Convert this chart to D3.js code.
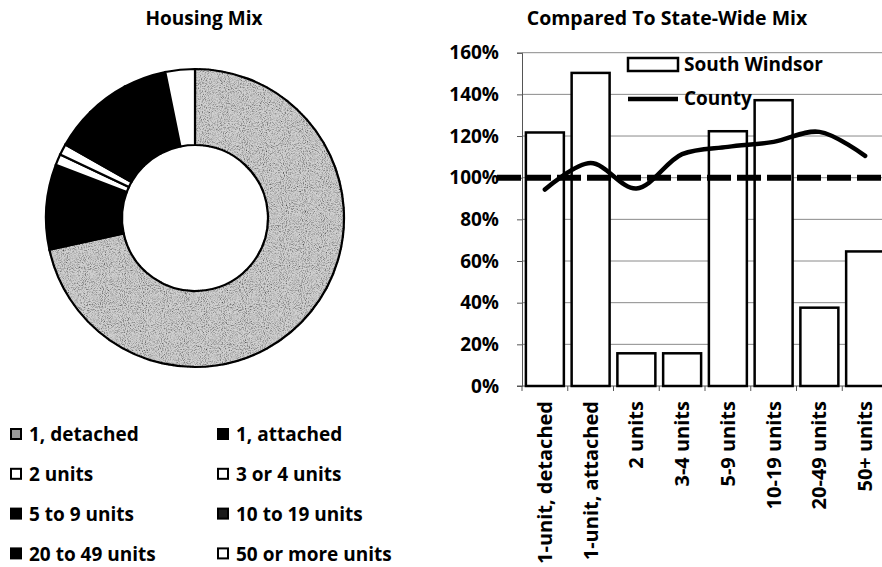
<!DOCTYPE html>
<html>
<head>
<meta charset="utf-8">
<script src="https://cdn.jsdelivr.net/npm/d3@7"></script>
<style>
  body { margin: 0; background: #fff; }
  svg { display: block; font-family: "Open Sans", Lato, sans-serif; font-weight: bold; }
</style>
</head>
<body>
<svg id="chart" width="882" height="567">
  <defs>
    <filter id="speckle" x="-5%" y="-5%" width="110%" height="110%">
      <feTurbulence type="fractalNoise" baseFrequency="0.95" numOctaves="2" seed="4" result="noise"/>
      <feColorMatrix in="noise" type="matrix"
        values="0 0 0 0 0  0 0 0 0 0  0 0 0 0 0  2.0 0 0 0 -0.86" result="dots"/>
      <feComposite in="dots" in2="SourceAlpha" operator="in" result="clipped"/>
      <feMerge><feMergeNode in="SourceGraphic"/><feMergeNode in="clipped"/></feMerge>
    </filter>
  </defs>
</svg>
<script>
"use strict";

// ---- housing mix (donut), percent of units
const mixLabels = ["1, detached", "1, attached", "2 units", "3 or 4 units",
                   "5 to 9 units", "10 to 19 units", "20 to 49 units", "50 or more units"];
const mixValues = [71.6, 9.2, 1.2, 1.2, 4.4, 4.6, 4.6, 3.2];

// ---- compared to state-wide mix (state = 100%)
const compCats = ["1-unit, detached", "1-unit, attached", "2 units", "3-4 units",
                  "5-9 units", "10-19 units", "20-49 units", "50+ units"];
const southWindsor = [1.217, 1.503, 0.157, 0.157, 1.223, 1.372, 0.376, 0.646];
const county = [0.943, 1.07, 0.948, 1.113, 1.148, 1.172, 1.22, 1.105];
const stateLevel = 1.0;
const yTicks = [0, 0.2, 0.4, 0.6, 0.8, 1.0, 1.2, 1.4, 1.6];

const svg = d3.select("#chart");

// fills for the donut slices, same order as mixLabels
const GREY = "#d0d0d0";
const sliceFill = [GREY, "#000", "#fff", "#fff", "#000", "#000", "#000", "#fff"];

// ---------- donut ----------
svg.append("text")
    .attr("x", 204).attr("y", 25)
    .attr("text-anchor", "middle")
    .attr("font-size", 19)
    .text("Housing Mix");

const pie = d3.pie().sort(null).value(d => d);
const arc = d3.arc().innerRadius(73).outerRadius(149);

svg.append("g")
    .attr("transform", "translate(195,218)")
    .selectAll("path")
    .data(pie(mixValues))
    .join("path")
    .attr("d", arc)
    .attr("fill", (d, i) => sliceFill[i])
    .attr("filter", (d, i) => i === 0 ? "url(#speckle)" : null)
    .attr("stroke", "#000")
    .attr("stroke-width", 2.2);

// legend below donut, two columns
const lg = svg.append("g");
const lgItems = lg.selectAll("g")
    .data(mixLabels)
    .join("g")
    .attr("transform", (d, i) => "translate(" + (i % 2 === 0 ? 10 : 217) + "," + (434.5 + Math.floor(i / 2) * 39.8) + ")");

lgItems.append("rect")
    .attr("x", 1).attr("y", -5.5)
    .attr("width", 10).attr("height", 10)
    .attr("fill", (d, i) => i === 0 ? "#9a9a9a" : (i === 5 ? "#1a1a1a" : sliceFill[i]))
    .attr("stroke", "#000")
    .attr("stroke-width", 2);

lgItems.append("text")
    .attr("x", 19).attr("y", 6.8)
    .attr("font-size", 19)
    .text(d => d);

// ---------- comparison chart ----------
const plotTop = 52.7, plotBottom = 386, plotLeft = 522, plotRight = 888;

svg.append("text")
    .attr("x", 667).attr("y", 25)
    .attr("text-anchor", "middle")
    .attr("font-size", 19.5)
    .text("Compared To State-Wide Mix");

const x = d3.scaleBand()
    .domain(compCats)
    .range([plotLeft, plotRight])
    .paddingInner(0.17)
    .paddingOuter(0.085);

const y = d3.scaleLinear().domain([0, 1.6]).range([plotBottom, plotTop]);

// gridlines
svg.append("g")
    .selectAll("line")
    .data(yTicks.slice(1))
    .join("line")
    .attr("x1", plotLeft).attr("x2", 882)
    .attr("y1", d => y(d)).attr("y2", d => y(d))
    .attr("stroke", "#8a8a8a")
    .attr("stroke-width", 1);

// y axis
const yAxis = svg.append("g")
    .attr("transform", "translate(" + plotLeft + ",0)")
    .call(d3.axisLeft(y).tickValues(yTicks).tickFormat(d3.format(".0%")).tickSize(5).tickPadding(18));
yAxis.select(".domain").attr("stroke", "#555");
yAxis.selectAll(".tick line").attr("stroke", "#555");
yAxis.selectAll("text")
    .attr("font-size", 19)
    .attr("font-family", "'Open Sans', sans-serif")
    .attr("font-weight", "bold")
    .attr("fill", "#000");

// x axis line and tick marks between categories
const xg = svg.append("g");
xg.append("line")
    .attr("x1", plotLeft - 5).attr("x2", 882)
    .attr("y1", plotBottom).attr("y2", plotBottom)
    .attr("stroke", "#555");
const step = x.step();
xg.selectAll("line.tk")
    .data(d3.range(compCats.length + 1))
    .join("line")
    .attr("class", "tk")
    .attr("x1", i => plotLeft + i * step).attr("x2", i => plotLeft + i * step)
    .attr("y1", plotBottom).attr("y2", plotBottom + 5)
    .attr("stroke", "#555");

// rotated category labels
xg.selectAll("text")
    .data(compCats)
    .join("text")
    .attr("transform", d => "translate(" + (x(d) + x.bandwidth() / 2 + 7) + "," + (plotBottom + 15) + ") rotate(-90)")
    .attr("text-anchor", "end")
    .attr("font-size", 20)
    .text(d => d);

// bars
svg.append("g")
    .selectAll("rect")
    .data(southWindsor)
    .join("rect")
    .attr("x", (d, i) => x(compCats[i]))
    .attr("y", d => y(d))
    .attr("width", x.bandwidth())
    .attr("height", d => plotBottom - y(d))
    .attr("fill", "#fff")
    .attr("stroke", "#000")
    .attr("stroke-width", 2.5);

// state-wide 100% dashed line
svg.append("line")
    .attr("x1", 497).attr("x2", 882)
    .attr("y1", y(stateLevel)).attr("y2", y(stateLevel))
    .attr("stroke", "#000")
    .attr("stroke-width", 6)
    .attr("stroke-dasharray", "24,6");

// county smoothed line
const line = d3.line()
    .x((d, i) => x(compCats[i]) + x.bandwidth() / 2)
    .y(d => y(d))
    .curve(d3.curveCatmullRom.alpha(0.5));

svg.append("path")
    .datum(county)
    .attr("d", line)
    .attr("fill", "none")
    .attr("stroke", "#000")
    .attr("stroke-width", 4.5)
    .attr("stroke-linecap", "round");

// legend
svg.append("rect")
    .attr("x", 628).attr("y", 58)
    .attr("width", 50).attr("height", 13)
    .attr("fill", "#fff")
    .attr("stroke", "#000")
    .attr("stroke-width", 2.5);
svg.append("text")
    .attr("x", 684).attr("y", 71)
    .attr("font-size", 19)
    .text("South Windsor");
svg.append("line")
    .attr("x1", 628).attr("x2", 678)
    .attr("y1", 99).attr("y2", 99)
    .attr("stroke", "#000")
    .attr("stroke-width", 4.5);
svg.append("text")
    .attr("x", 684).attr("y", 105)
    .attr("font-size", 19)
    .text("County");
</script>
</body>
</html>
